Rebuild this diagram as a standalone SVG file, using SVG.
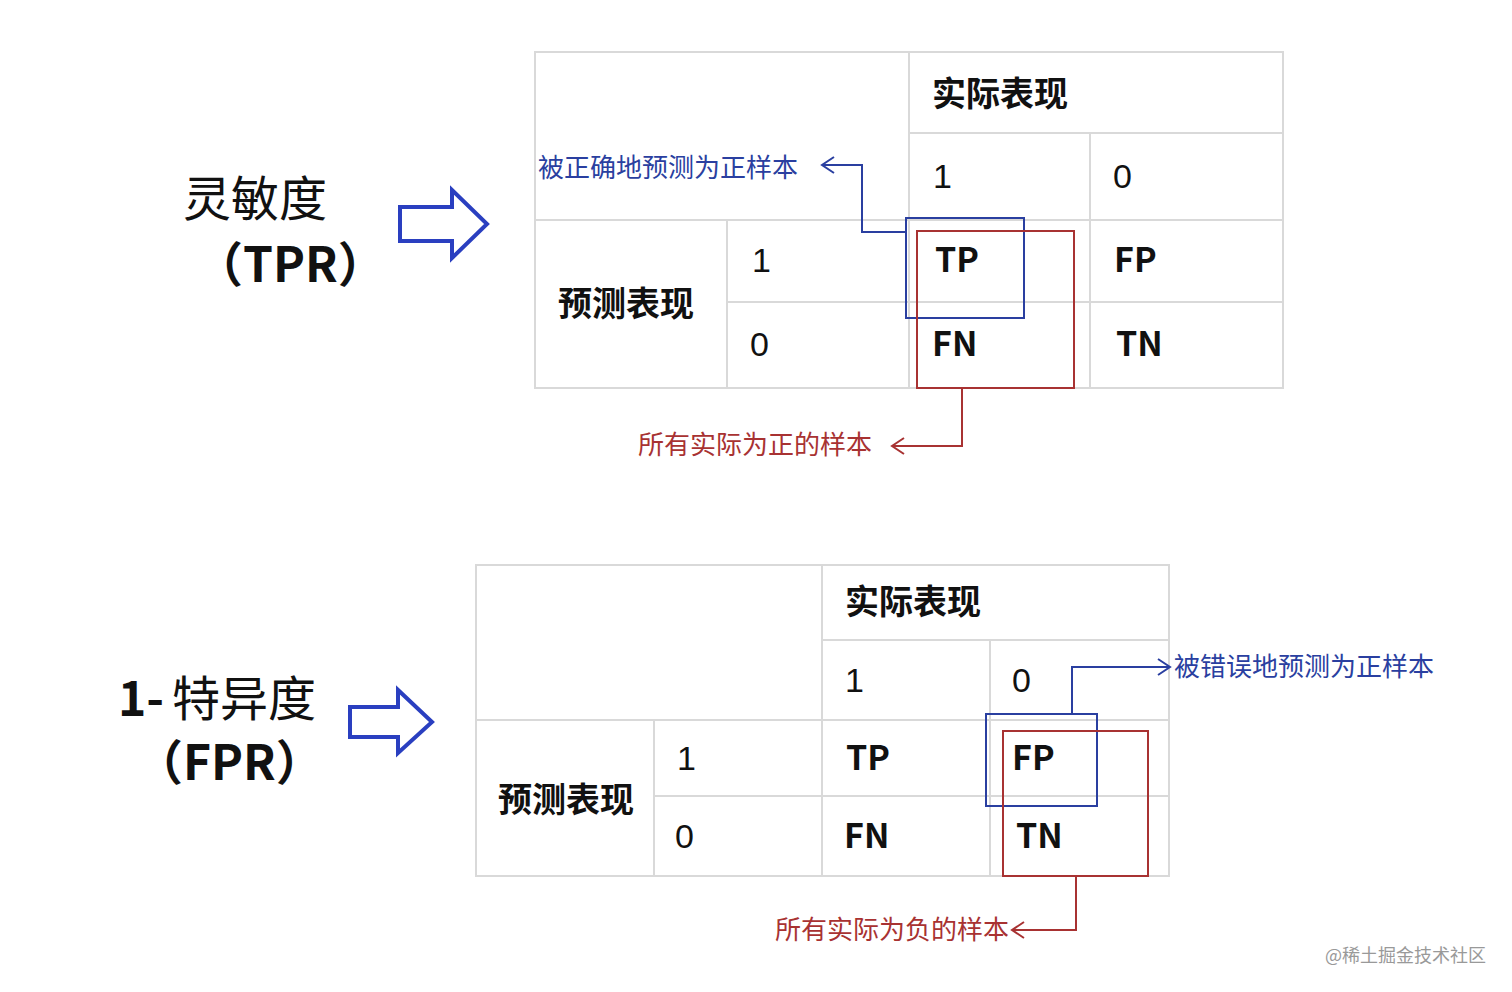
<svg xmlns="http://www.w3.org/2000/svg" width="1512" height="992" viewBox="0 0 1512 992">
<style>
.g{fill:none;stroke:#d9d9d9;stroke-width:2}
.t{font-family:"Liberation Sans","Noto Sans CJK SC",sans-serif;font-size:34px;fill:#111}
.b{font-family:"Noto Sans CJK SC",sans-serif;font-size:34px;font-weight:bold;fill:#111}
.blue{fill:none;stroke:#2a3fa0;stroke-width:2}
.red{fill:none;stroke:#a83232;stroke-width:2}
.lb{font-family:"Noto Sans CJK SC",sans-serif;font-size:26px}
.big{font-family:"Noto Sans CJK SC",sans-serif;font-size:48px;fill:#111}
.arr{fill:#fff;stroke:#2a3fc0;stroke-width:4}
</style>
<rect width="1512" height="992" fill="#fff"/>
<g id="label-tpr">
<text class="big" x="183" y="216">灵敏度</text>
<text class="big" x="195" y="282" font-weight="bold" font-size="44">（TPR）</text>
<path class="arr" d="M400,207 H452 V190 L487,224 L452,258 V241 H400 Z"/>
</g>
<g id="table-top">
<path class="g" d="M535,52 H1283 V388 H535 Z M909,52 V388 M909,133 H1283 M1090,133 V388 M535,220 H1283 M727,220 V388 M727,302 H1283"/>
<text class="b" x="932" y="106">实际表现</text>
<text class="t" x="933" y="188">1</text>
<text class="t" x="1113" y="188">0</text>
<text class="b" x="558" y="316">预测表现</text>
<text class="t" x="752" y="272">1</text>
<text class="t" x="750" y="356">0</text>
<text class="b" x="935" y="272">TP</text>
<text class="b" x="1114" y="272">FP</text>
<text class="b" x="932" y="356">FN</text>
<text class="b" x="1116" y="356">TN</text>
</g>
<g id="label-fpr">
<text class="big" x="118" y="716" font-weight="bold">1-</text>
<text class="big" x="172" y="716">特异度</text>
<text class="big" x="135" y="780" font-weight="bold" font-size="44">（FPR）</text>
<path class="arr" d="M350,707 H398 V690 L432,722 L398,753 V737 H350 Z"/>
</g>
<g id="table-bottom">
<path class="g" d="M476,565 H1169 V876 H476 Z M822,565 V876 M822,640 H1169 M990,640 V876 M476,720 H1169 M654,720 V876 M654,796 H1169"/>
<text class="b" x="845" y="614">实际表现</text>
<text class="t" x="845" y="692">1</text>
<text class="t" x="1012" y="692">0</text>
<text class="b" x="498" y="812">预测表现</text>
<text class="t" x="677" y="770">1</text>
<text class="t" x="675" y="848">0</text>
<text class="b" x="846" y="770">TP</text>
<text class="b" x="1012" y="770">FP</text>
<text class="b" x="844" y="848">FN</text>
<text class="b" x="1016" y="848">TN</text>
</g>
<g id="connectors">
<rect class="blue" x="906" y="218" width="118" height="100"/>
<rect class="red" x="917" y="231" width="157" height="157"/>
<path class="blue" d="M906,232 H862 V165 H822 M834,157 L822,165 L834,173"/>
<path class="red" d="M962,388 V446 H892 M904,438 L892,446 L904,454"/>
<rect class="blue" x="986" y="714" width="111" height="92"/>
<rect class="red" x="1003" y="731" width="145" height="145"/>
<path class="blue" d="M1072,714 V667 H1170 M1158,659 L1170,667 L1158,675"/>
<path class="red" d="M1076,876 V930 H1012 M1024,922 L1012,930 L1024,938"/>
</g>
<g id="notes">
<text class="lb" x="538" y="177" fill="#2a3fa0">被正确地预测为正样本</text>
<text class="lb" x="638" y="454" fill="#a83232">所有实际为正的样本</text>
<text class="lb" x="1174" y="676" fill="#2a3fa0" font-size="25">被错误地预测为正样本</text>
<text class="lb" x="775" y="939" fill="#a83232" font-size="25">所有实际为负的样本</text>
<text x="1325" y="962" font-family="Noto Sans CJK SC,sans-serif" font-size="18" fill="#999">@稀土掘金技术社区</text>
</g>
</svg>
